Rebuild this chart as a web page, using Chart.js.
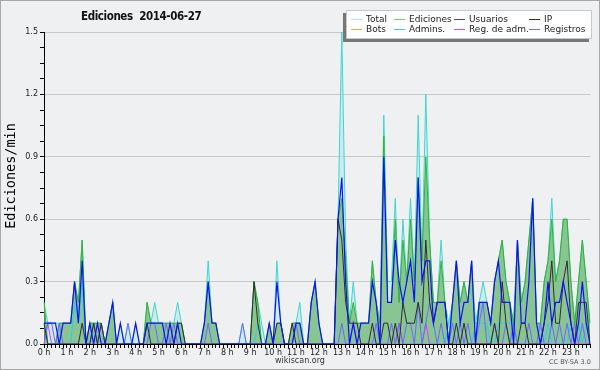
<!DOCTYPE html>
<html>
<head>
<meta charset="utf-8">
<title>Ediciones 2014-06-27</title>
<script src="https://cdn.jsdelivr.net/npm/chart.js@4.4.1/dist/chart.umd.min.js"></script>
<style>
  body { margin: 0; background: #fff; }
  #marco {
    position: relative; width: 600px; height: 370px; box-sizing: border-box;
    border: 1px solid #a8a8a8; background: #eff0f2;
    font-family: "DejaVu Sans", sans-serif; color: #111;
  }
  #grafico { position: absolute; left: 0; top: 0; }
  #titulo {
    position: absolute; left: 80px; top: 8px; font-weight: bold; font-size: 11.5px;
    font-stretch: condensed; letter-spacing: -0.4px; white-space: pre; color: #111;
  }
  #ejeY {
    position: absolute; left: -51px; top: 167px; width: 120px; height: 16px; line-height: 16px;
    text-align: center; transform: rotate(-90deg); white-space: nowrap;
    font-family: "DejaVu Sans Mono", monospace; font-size: 13.5px; color: #000;
  }
  #leyenda {
    position: absolute; left: 345px; top: 9px; width: 244px; height: 27px;
    background: #fff; border: 1px solid #c8c8c8; box-shadow: -3px 3px 0 #777;
    font-size: 9px; color: #222;
  }
  .item { position: absolute; line-height: 10px; white-space: nowrap; }
  .item i { display: inline-block; width: 11px; height: 1px; margin-right: 4px; vertical-align: middle; }
  #pie { position: absolute; left: 0; width: 598px; top: 355px; text-align: center; font-size: 8px; color: #333; }
  #licencia { position: absolute; left: 548px; top: 357px; font-size: 6.5px; color: #555; }
</style>
</head>
<body>
<div id="marco">
  <canvas id="grafico" width="598" height="368"></canvas>
  <div id="titulo">Ediciones  2014-06-27</div>
  <div id="ejeY">Ediciones/min</div>
  <div id="leyenda"></div>
  <div id="pie">wikiscan.org</div>
  <div id="licencia">CC BY-SA 3.0</div>
</div>
<script>
// una hora = 6 intervalos de 10 minutos
const horas = ["0 h","1 h","2 h","3 h","4 h","5 h","6 h","7 h","8 h","9 h","10 h","11 h",
  "12 h","13 h","14 h","15 h","16 h","17 h","18 h","19 h","20 h","21 h","22 h","23 h"];

const total = [
  0.2,0.1,0.1,0.1,0.1,0.1, 0.1,0.1,0.3,0.2,0.5,0, 0.1,0.1,0.1,0.1,0,0.1, 0.2,0,0.1,0,0.1,0,
  0.1,0,0,0.2,0.1,0.2, 0.1,0.1,0.1,0.1,0.1,0.2, 0.1,0,0,0,0,0, 0.1,0.4,0.1,0.1,0,0,
  0,0,0,0,0.1,0, 0,0.3,0.2,0.1,0,0.1, 0,0.4,0.1,0,0,0.1, 0.1,0.2,0,0,0.2,0.3,
  0.1,0,0,0,0,0.6, 1.5,0.5,0.1,0.3,0.1,0.1, 0.1,0.1,0.4,0.2,0.1,1.1, 0.3,0.3,0.7,0.2,0.6,0.3,
  0.7,0.3,1.1,0.4,1.2,0.5, 0.2,0.2,0.5,0.2,0.1,0.2, 0.4,0.2,0.3,0.2,0.4,0.1, 0.2,0.3,0.2,0.1,0.3,0.4,
  0.5,0.3,0.2,0.1,0.5,0.2, 0.3,0.5,0.7,0.1,0.1,0.3, 0.4,0.7,0.3,0.4,0.6,0.6, 0.3,0.1,0.3,0.5,0.3,0.1
];
const ediciones = [
  0.2,0,0,0,0.1,0.1, 0.1,0.1,0.3,0.2,0.5,0, 0.1,0.1,0.1,0.1,0,0.1, 0.2,0,0,0,0,0,
  0,0,0,0.2,0.1,0.1, 0.1,0.1,0.1,0.1,0.1,0.1, 0.1,0,0,0,0,0, 0.1,0.3,0.1,0.1,0,0,
  0,0,0,0,0,0, 0,0.3,0.2,0,0,0.1, 0,0.1,0.1,0,0,0.1, 0.1,0.1,0,0,0.2,0.3,
  0.1,0,0,0,0,0.6, 0.7,0.4,0.1,0.2,0.1,0.1, 0.1,0.1,0.4,0.2,0.1,1.0, 0.2,0.2,0.6,0.2,0.5,0.3,
  0.6,0.3,0.8,0.4,0.9,0.5, 0.2,0.2,0.4,0.2,0,0.2, 0.4,0.2,0.3,0.2,0.4,0, 0.2,0.2,0.2,0.1,0.3,0.4,
  0.5,0.3,0.2,0.1,0.5,0.2, 0.3,0.5,0.7,0.1,0.1,0.3, 0.4,0.6,0.3,0.4,0.6,0.6, 0.3,0.1,0.3,0.5,0.3,0.1
];
const usuarios = [
  0.1,0.1,0.1,0.1,0,0.1, 0.1,0.1,0.3,0.1,0.4,0, 0.1,0,0.1,0,0,0.1, 0.2,0,0.1,0,0,0,
  0.1,0,0,0.1,0.1,0.1, 0.1,0.1,0,0.1,0,0.1, 0,0,0,0,0,0, 0.1,0.3,0.1,0.1,0,0,
  0,0,0,0,0,0, 0,0,0,0,0,0.1, 0,0.3,0.1,0,0,0, 0.1,0.1,0,0,0.2,0.3,
  0.1,0,0,0,0,0.6, 0.8,0.3,0,0.1,0,0.1, 0.1,0.1,0.3,0.2,0,0.9, 0.2,0.2,0.5,0.3,0.2,0.3,
  0.4,0.2,0.8,0.3,0.4,0.4, 0.1,0.2,0.2,0.2,0,0.2, 0.4,0.1,0.2,0.2,0.4,0, 0.2,0.2,0.2,0.1,0.3,0.4,
  0.2,0.2,0.2,0,0.5,0.1, 0.1,0.3,0.7,0.1,0,0.1, 0.3,0.1,0.2,0.2,0.3,0.2, 0.1,0,0.1,0.3,0.1,0
];
const ip = [
  0.1,0,0,0,0,0, 0,0,0,0,0.1,0, 0,0.1,0,0.1,0,0, 0,0,0,0,0,0,
  0,0,0,0.1,0,0, 0,0,0,0,0,0.1, 0.1,0,0,0,0,0, 0,0,0,0,0,0,
  0,0,0,0,0,0, 0,0.3,0.1,0,0,0, 0,0.1,0.1,0,0,0.1, 0,0,0,0,0,0,
  0,0,0,0,0,0.6, 0.5,0.2,0.1,0.1,0.1,0, 0,0,0.1,0,0,0.1, 0.1,0,0.1,0,0.2,0.1,
  0.1,0.1,0.2,0.1,0.5,0.2, 0.1,0.2,0.2,0.2,0,0, 0.1,0,0.1,0,0,0, 0,0,0,0,0.1,0,
  0.3,0.1,0,0,0,0.1, 0.1,0,0,0,0,0.1, 0.2,0.4,0.1,0.1,0.3,0.4, 0.1,0,0.2,0.2,0.2,0
];
const bots = new Array(144).fill(0);
const admins = [
  0.1,0,0,0,0,0, 0,0,0.2,0.1,0.3,0, 0,0,0,0,0,0, 0,0,0,0,0,0,
  0,0,0,0,0,0, 0,0,0,0,0,0, 0,0,0,0,0,0, 0,0,0,0,0,0,
  0,0,0,0,0,0, 0,0,0.1,0,0,0, 0,0,0,0,0,0, 0,0,0,0,0,0,
  0,0,0,0,0,0, 0,0,0,0,0,0, 0,0,0,0,0,0, 0,0,0,0,0,0,
  0,0,0,0,0,0, 0,0,0,0,0.1,0.1, 0,0,0,0,0,0.1, 0.1,0.1,0.1,0,0,0.1,
  0.1,0.1,0.1,0.1,0,0, 0,0,0,0,0,0, 0.1,0,0,0,0,0, 0.1,0,0.1,0,0.1,0.1
];
const regAdm = [
  0,0.1,0,0,0,0, 0,0,0,0,0,0, 0,0,0,0,0,0, 0,0,0,0,0,0,
  0,0,0,0,0,0, 0,0,0,0,0,0, 0,0,0,0,0,0, 0,0,0,0,0,0,
  0,0,0,0,0,0, 0,0,0,0,0,0, 0,0,0,0,0,0, 0,0,0,0,0,0,
  0,0,0,0,0,0, 0,0,0,0,0,0, 0,0,0,0,0,0, 0,0,0,0.1,0,0,
  0,0,0,0,0.1,0, 0,0,0,0,0,0, 0,0,0,0,0,0, 0,0,0,0,0,0,
  0,0,0,0,0,0, 0,0,0,0,0,0, 0,0,0,0,0,0, 0,0,0,0,0,0
];
const registros = [
  0,0.1,0.1,0,0.1,0, 0,0,0,0,0,0, 0,0.1,0,0.1,0,0, 0,0,0,0,0.1,0,
  0,0,0,0,0.1,0.1, 0,0,0.1,0,0.1,0, 0,0,0,0,0,0, 0,0.1,0,0,0,0,
  0,0,0,0,0.1,0, 0,0,0,0,0,0, 0,0,0,0,0,0, 0.1,0,0,0,0,0,
  0,0,0,0,0,0, 0.1,0,0,0.1,0,0, 0,0,0,0.1,0,0, 0,0.1,0,0.1,0,0.1,
  0.1,0,0.2,0,0.1,0.2, 0.1,0,0.1,0,0,0.1, 0,0.1,0,0.1,0,0, 0.1,0.2,0,0,0.1,0,
  0,0.1,0,0.1,0,0, 0,0.1,0,0,0.1,0, 0,0.1,0,0.1,0,0.1, 0,0.1,0,0.1,0,0
];

const etiquetas = [];
horas.forEach(h => {
  etiquetas.push(h);
  for (let k = 1; k < 6; k++) etiquetas.push("");
});

const series = [
  { label: "Total", data: total, color: "#3fd6cf", muestra: "#a6e8e8", fondo: "rgba(175,232,232,0.55)", orden: 9 },
  { label: "Ediciones", data: ediciones, color: "#36b336", muestra: "#72d072", fondo: "rgba(70,160,60,0.5)", orden: 8 },
  { label: "Usuarios", data: usuarios, color: "#1010f4", muestra: "#3a3aff", orden: 0, ancho: 1.2 },
  { label: "IP", data: ip, color: "#2e2e2e", muestra: "#333333", orden: 1 },
  { label: "Bots", data: bots, color: "#ff9a20", muestra: "#ffa030", orden: 6 },
  { label: "Admins.", data: admins, color: "#30cce0", muestra: "#30d0e0", orden: 3 },
  { label: "Reg. de adm.", data: regAdm, color: "#d840f0", muestra: "#e040f0", orden: 4 },
  { label: "Registros", data: registros, color: "#6a6aff", muestra: "#7070ff", orden: 2 }
];

// leyenda en dos filas
const columnas = [4, 47, 107, 182];
const leyenda = document.getElementById("leyenda");
series.forEach((s, n) => {
  const d = document.createElement("div");
  d.className = "item";
  d.style.left = columnas[n % 4] + "px";
  d.style.top = (n < 4 ? 3 : 13) + "px";
  d.innerHTML = '<i style="background:' + s.muestra + '"></i>' + s.label;
  leyenda.appendChild(d);
});

const esMayor = v => Math.abs(v * 10 / 3 - Math.round(v * 10 / 3)) < 1e-6;

new Chart(document.getElementById("grafico"), {
  type: "line",
  data: {
    labels: etiquetas,
    datasets: series.map(s => ({
      label: s.label,
      data: s.data,
      borderColor: s.color,
      backgroundColor: s.fondo || s.color,
      borderWidth: s.ancho || 1,
      fill: s.fondo ? "origin" : false,
      order: s.orden,
      pointRadius: 0,
      tension: 0
    }))
  },
  options: {
    responsive: false,
    animation: false,
    devicePixelRatio: 1,
    layout: { padding: { top: 31, right: 9, left: 0, bottom: 0 } },
    plugins: { legend: { display: false }, tooltip: { enabled: false } },
    scales: {
      x: {
        z: 1,
        offset: false,
        grid: { drawOnChartArea: false, tickLength: 4, tickColor: "#000" },
        border: { color: "#000" },
        ticks: { autoSkip: false, maxRotation: 0, minRotation: 0, padding: 0,
          font: { family: "DejaVu Sans", size: 8 }, color: "#222" },
        afterFit: scale => { scale.height = 25; }
      },
      y: {
        min: 0, max: 1.5,
        grid: {
          color: c => esMayor(c.tick.value) ? "#c8c8c8" : "rgba(0,0,0,0)",
          tickColor: "#000", tickLength: 4
        },
        border: { color: "#000" },
        ticks: {
          stepSize: 0.075, autoSkip: false, padding: 2,
          font: { family: "DejaVu Sans", size: 8 }, color: "#222",
          callback: v => esMayor(v) ? v.toFixed(1) : ""
        },
        afterFit: scale => { scale.width = 43; }
      }
    }
  }
});
</script>
</body>
</html>
